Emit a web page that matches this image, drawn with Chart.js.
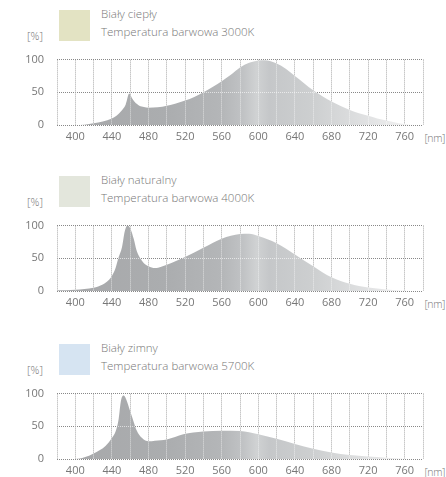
<!DOCTYPE html>
<html>
<head>
<meta charset="utf-8">
<script src="https://cdn.jsdelivr.net/npm/chart.js@4.4.1/dist/chart.umd.min.js"></script>
<style>
  html, body { margin: 0; padding: 0; background: #fff; }
  body { width: 446px; height: 477px; position: relative; overflow: hidden;
         font-family: 'Open Sans', sans-serif; font-weight: 300; color: #777; }
  .panel { position: absolute; left: 0; width: 446px; height: 160px; }
  .swatch { position: absolute; left: 59px; top: 10px; width: 31px; height: 31px; }
  .title { position: absolute; left: 101px; top: 5px; font-size: 11.5px; line-height: 18px; white-space: nowrap; }
  .unit-y { position: absolute; left: 27px; top: 28px; font-size: 11px; }
  .unit-x { position: absolute; right: 1px; top: 131px; font-size: 10.5px; letter-spacing: -0.4px; white-space: nowrap; }
  .plot { position: absolute; left: 0; top: 40px; width: 446px; height: 110px; }
</style>
</head>
<body>
<div id="panels"></div>
<script>
// wavelength [nm] and relative intensity [%]
const warmNm   = [380, 400, 410, 420, 430, 440, 445, 450, 455, 459, 462, 465, 470, 475, 480, 490, 500, 510, 520, 530, 540, 550, 560, 570, 580, 590, 600, 607, 620, 630, 640, 650, 660, 670, 680, 690, 700, 710, 720, 730, 740, 750, 760, 770, 780];
const warmPct  = [0, 0, 0.5, 2.5, 5.5, 10, 14, 21, 31, 48, 41, 35, 29.5, 27.5, 26.5, 27, 29.5, 33, 37.5, 43, 50, 58, 67, 77, 88, 95, 98.5, 99, 94, 86, 75, 64, 53, 44, 36, 29, 23, 18, 14, 10, 7, 4, 1.5, 0, 0];

const neutralNm  = [380, 400, 420, 430, 436, 440, 444, 447, 451, 454, 457, 460, 464, 467, 471, 475, 480, 487, 494, 500, 510, 520, 540, 560, 580, 590, 600, 620, 640, 660, 680, 700, 720, 740, 760, 770, 780];
const neutralPct = [1, 2, 5, 10, 16, 23, 35, 50, 67, 91, 100, 96, 79, 62, 50, 42.5, 38, 35, 37, 40, 46, 52, 66, 80, 87, 87.5, 84, 73, 56, 38, 21, 11, 5.3, 2.4, 0.5, 0, 0];

const coolNm  = [380, 390, 400, 410, 420, 433, 440, 444, 447, 450, 453, 456, 460, 464, 467, 473, 480, 487, 500, 518, 540, 560, 580, 600, 620, 640, 660, 680, 700, 720, 740, 760, 780];
const coolPct = [0, 0, 0, 2.5, 8.5, 20, 32, 42, 58, 90, 97, 90, 73, 56, 44, 32, 27, 28, 30, 38, 42, 43.3, 43, 38, 31, 23, 15.7, 10, 6, 3.8, 2, 0.5, 0];

const names   = ['Biały ciepły', 'Biały naturalny', 'Biały zimny'];
const temps   = ['Temperatura barwowa 3000K', 'Temperatura barwowa 4000K', 'Temperatura barwowa 5700K'];
const swatches = ['#e3e3c3', '#e3e6dc', '#d6e4f2'];
const xLabels = [400, 440, 480, 520, 560, 600, 640, 680, 720, 760];
const yTicks  = [0, 50, 100];

const series = [
    { nm: warmNm, pct: warmPct },
    { nm: neutralNm, pct: neutralPct },
    { nm: coolNm, pct: coolPct }
];
const panelTops = [0, 166, 334];

Chart.defaults.font.family = "'Open Sans', sans-serif";
Chart.defaults.font.size = 11;
Chart.defaults.color = '#777';

// grey fill that lightens around 600 nm and fades out to the right
function spectrumFill(context) {
    const area = context.chart.chartArea;
    if (!area) return '#b0b1b3';
    const g = context.chart.ctx.createLinearGradient(area.left, 0, area.right, 0);
    g.addColorStop(0, '#a7a8aa');
    g.addColorStop(0.3, '#abadaf');
    g.addColorStop(0.45, '#b4b6b8');
    g.addColorStop(0.51, '#c1c3c5');
    g.addColorStop(0.545, '#d0d2d3');
    g.addColorStop(0.58, '#c5c7c9');
    g.addColorStop(0.7, '#cdcfd0');
    g.addColorStop(0.85, '#e1e2e3');
    g.addColorStop(0.95, '#f0f0f0');
    g.addColorStop(1, '#f8f8f8');
    return g;
}

// pale dotted grid showing through the filled area
const lightGrid = {
    id: 'lightGrid',
    afterDatasetsDraw(chart) {
        const { ctx, chartArea: a, scales: { x, y } } = chart;
        const align = (p) => Math.round(p - 0.5) + 0.5;
        ctx.save();
        ctx.strokeStyle = 'rgba(255,255,255,0.6)';
        ctx.lineWidth = 1;
        ctx.setLineDash([1, 1]);
        ctx.lineDashOffset = 1;
        x.ticks.forEach(t => {
            const px = align(x.getPixelForValue(t.value));
            ctx.beginPath(); ctx.moveTo(px, a.top); ctx.lineTo(px, a.bottom); ctx.stroke();
        });
        y.ticks.forEach(t => {
            const py = align(y.getPixelForValue(t.value));
            ctx.beginPath(); ctx.moveTo(a.left, py); ctx.lineTo(a.right, py); ctx.stroke();
        });
        ctx.restore();
    }
};

const panels = document.getElementById('panels');

series.forEach((s, i) => {
    const panel = document.createElement('div');
    panel.className = 'panel';
    panel.style.top = panelTops[i] + 'px';
    panel.innerHTML =
        `<div class="swatch" style="background:${swatches[i]}"></div>` +
        `<div class="title">${names[i]}<br>${temps[i]}</div>` +
        `<div class="unit-y">[%]</div>` +
        `<div class="unit-x">[nm]</div>` +
        `<div class="plot"><canvas id="chart${i}"></canvas></div>`;
    panels.appendChild(panel);

    new Chart(document.getElementById(`chart${i}`), {
        type: 'line',
        data: {
            datasets: [{
                data: s.nm.map((v, k) => ({ x: v, y: s.pct[k] })),
                fill: 'origin',
                backgroundColor: spectrumFill,
                borderWidth: 0,
                pointRadius: 0,
                cubicInterpolationMode: 'monotone'
            }]
        },
        options: {
            responsive: true,
            maintainAspectRatio: false,
            animation: false,
            layout: { padding: { top: 16, right: 23, left: 0, bottom: 0 } },
            plugins: { legend: { display: false }, tooltip: { enabled: false } },
            scales: {
                x: {
                    type: 'linear',
                    min: 380,
                    max: 780,
                    afterFit: (scale) => { scale.height = 25; },
                    ticks: {
                        stepSize: 20,
                        autoSkip: false,
                        maxRotation: 0,
                        padding: 5,
                        callback: (v) => xLabels.includes(v) ? v : ''
                    },
                    grid: { color: '#888', drawTicks: false },
                    border: { display: false, dash: [1, 1] }
                },
                y: {
                    min: 0,
                    max: 100,
                    afterFit: (scale) => { scale.width = 57; },
                    ticks: {
                        stepSize: 50,
                        padding: 13,
                        callback: (v) => yTicks.includes(v) ? v : ''
                    },
                    grid: { color: '#888', drawTicks: false },
                    border: { display: false, dash: [1, 1] }
                }
            }
        },
        plugins: [lightGrid]
    });
});
</script>
</body>
</html>
